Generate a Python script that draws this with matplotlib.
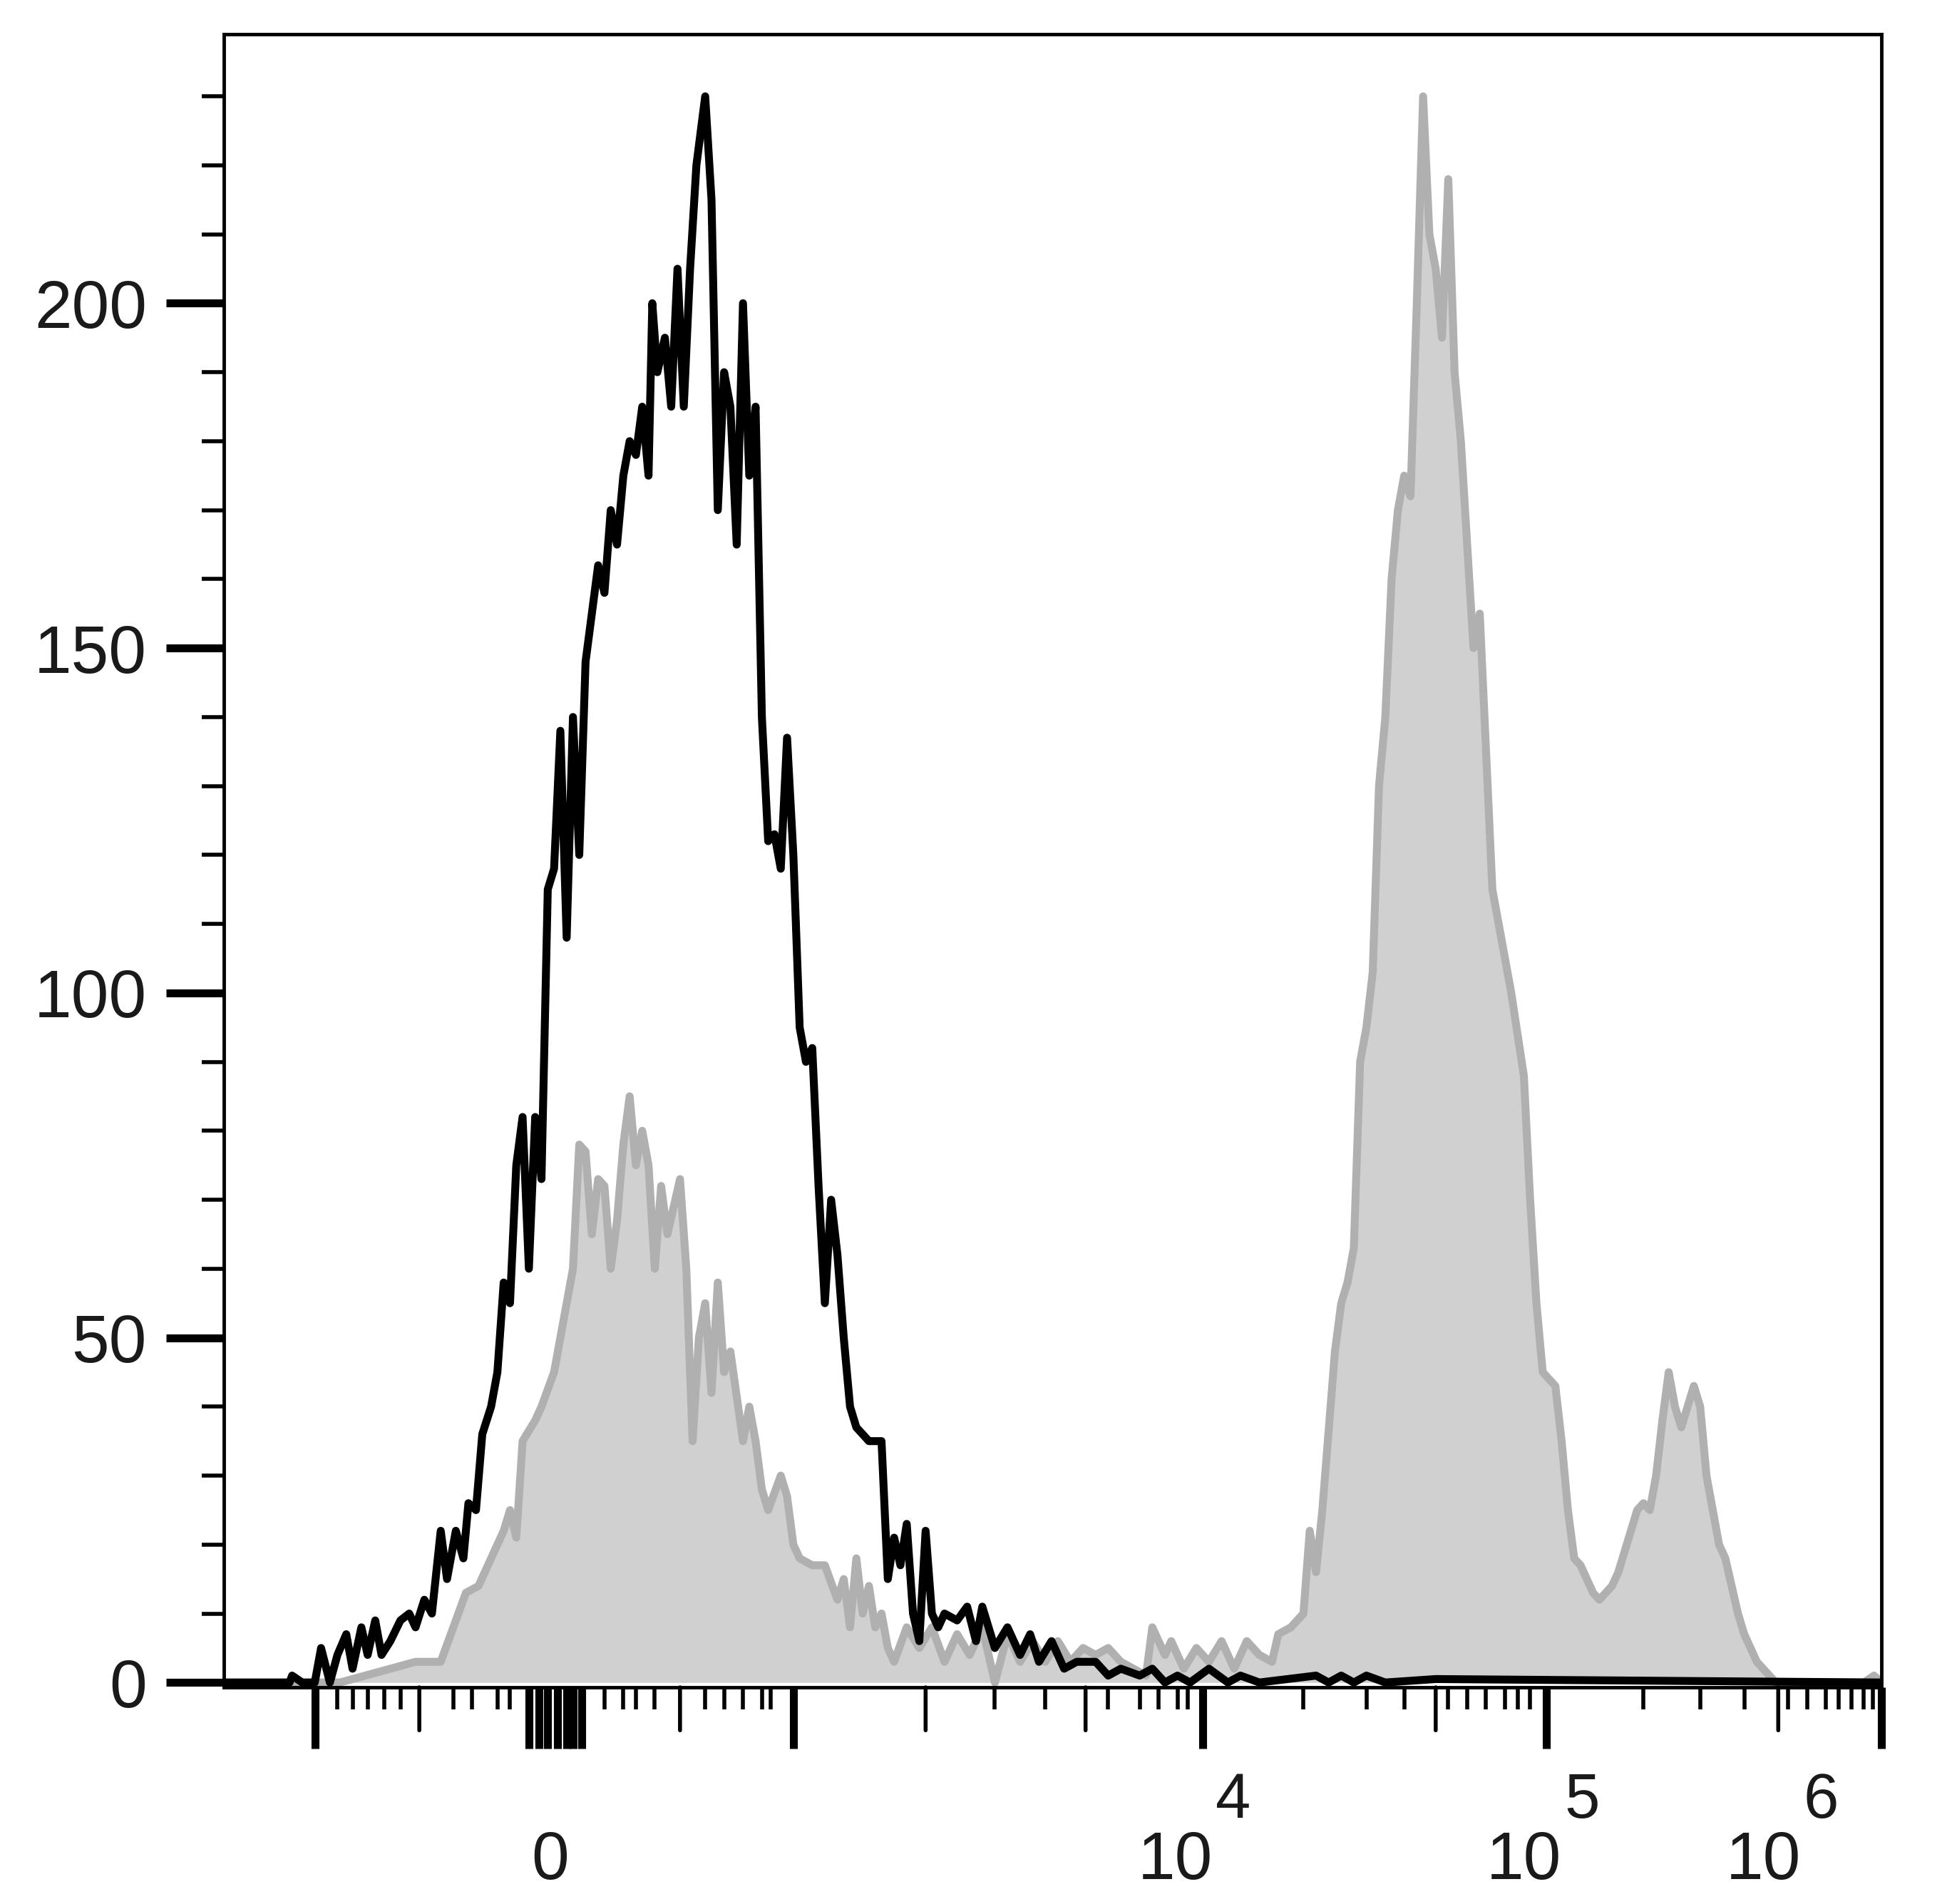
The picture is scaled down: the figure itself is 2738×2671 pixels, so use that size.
import matplotlib
matplotlib.use("Agg")
import matplotlib.pyplot as plt
from matplotlib.transforms import blended_transform_factory

plt.rcParams['font.family'] = ['Liberation Sans', 'DejaVu Sans']

# x positions are channel positions on the display (biexponential) scale
black_x = [178,230,232,240,250,255,262,268,275,280,287,292,298,303,310,318,325,330,337,343,350,355,362,368,372,378,383,390,395,400,405,410,415,420,425,430,435,440,445,450,455,460,465,470,475,480,485,490,495,500,505,510,515,518,522,528,533,538,543,548,553,560,565,570,575,580,585,590,595,600,605,610,615,620,625,630,635,640,645,650,655,660,665,670,675,680,690,700,705,710,715,720,725,730,735,740,745,750,760,768,775,780,790,800,810,818,825,835,845,855,870,880,890,905,915,925,935,945,960,975,985,1000,1045,1055,1065,1075,1085,1100,1140,1494]
black_y = [0,0,1,0,0,5,0,4,7,2,8,4,9,4,6,9,10,8,12,10,22,15,22,18,26,25,36,40,45,58,55,75,82,60,82,73,115,118,138,108,140,120,148,155,162,158,170,165,175,180,178,185,175,200,190,195,185,205,185,205,220,230,215,170,190,185,165,200,175,185,140,122,123,118,137,120,95,90,92,72,55,70,62,50,40,37,35,35,15,21,17,23,10,6,22,10,8,10,9,11,6,11,5,8,4,7,3,6,2,3,3,1,2,1,2,0,1,0,2,0,1,0,1,0,1,0,1,0,0.5,0]

gray_x = [178,250,270,290,310,330,350,360,370,380,390,400,405,410,415,425,430,440,450,455,460,465,470,475,480,485,490,495,500,505,510,515,520,525,530,540,545,550,555,560,565,570,575,580,590,595,600,605,610,620,625,630,635,645,655,665,670,675,680,685,690,695,700,705,710,720,730,740,750,760,770,780,790,800,810,820,830,840,850,860,870,880,890,900,910,915,925,930,940,950,960,970,980,990,1000,1010,1015,1025,1035,1040,1045,1050,1060,1065,1070,1075,1080,1085,1090,1095,1100,1105,1110,1115,1120,1125,1130,1135,1140,1145,1150,1155,1160,1165,1170,1175,1180,1185,1190,1195,1200,1210,1215,1220,1225,1235,1240,1245,1250,1255,1260,1265,1270,1275,1280,1285,1290,1295,1300,1305,1310,1315,1320,1325,1330,1335,1340,1345,1350,1355,1360,1365,1370,1375,1380,1385,1390,1395,1405,1410,1480,1488,1494]
gray_y = [0,0,0,1,2,3,3,8,13,14,18,22,25,21,35,38,40,45,55,60,78,77,65,73,72,60,67,78,85,75,80,75,60,72,65,73,60,35,50,55,42,58,45,48,35,40,35,28,25,30,27,20,18,17,17,12,15,8,18,10,14,8,10,5,3,8,5,8,3,7,4,8,0,7,3,6,3,6,3,5,4,5,3,2,1,8,4,6,2,5,3,6,2,6,4,3,7,8,10,22,16,25,48,55,58,63,90,95,103,130,140,160,170,175,172,200,230,210,205,195,218,190,180,165,150,155,135,115,110,105,100,88,70,55,45,43,35,25,18,17,15,13,12,13,14,16,19,22,25,26,25,30,38,45,40,37,40,43,40,30,25,20,18,14,10,7,5,3,1,0,0,1,0]

y_major = [0, 50, 100, 150, 200]
y_minor = [v for v in range(0, 240, 10) if v % 50 != 0]
x_major = [250,420,428,435,443,450,455,462,630,955,1228,1494]
x_medium = [333,540,735,862,1140,1412]
x_minor = [268,280,292,305,318,360,375,395,405,480,495,505,520,560,575,590,605,612,790,830,880,905,920,935,943,1035,1085,1115,1150,1165,1180,1195,1205,1215,1305,1350,1385,1420,1435,1450,1460,1470,1480,1487]
x_label_pos = [437, 958, 1235, 1425]
x_label_base = ['0', '10', '10', '10']
x_label_sup = ['', '4', '5', '6']

fig = plt.figure(figsize=(27.38, 26.71), dpi=100)
ax = fig.add_axes([0.1148, 0.1138, 0.8491, 0.8682])
ax.fill_between(gray_x, gray_y, 0, color='#d0d0d0', lw=0)
ax.plot(gray_x, gray_y, color='#b0b0b0', lw=8)
ax.plot(black_x, black_y, color='black', lw=8)
ax.set_xlim(178, 1494)
ax.set_ylim(-0.7, 239)
for s in ax.spines.values():
    s.set_linewidth(3.5)

ax.set_yticks(y_major)
ax.set_yticklabels([str(v) for v in y_major], fontsize=68, color='#1a1a1a')
ax.set_yticks(y_minor, minor=True)
ax.tick_params(axis='y', which='major', length=58, width=8, pad=20)
ax.tick_params(axis='y', which='minor', length=22, width=4)

ax.set_xticks(x_major)
ax.set_xticklabels([])
ax.tick_params(axis='x', which='major', length=62, width=8)
ax.set_xticks(x_minor, minor=True)
ax.tick_params(axis='x', which='minor', length=22, width=4)
tr = blended_transform_factory(ax.transData, ax.transAxes)
for p in x_medium:
    ax.annotate('', xy=(p, -0.026), xytext=(p, 0), xycoords=tr, textcoords=tr,
                arrowprops=dict(arrowstyle='-', lw=4, color='black', shrinkA=0, shrinkB=0), annotation_clip=False)
for p, b, s in zip(x_label_pos, x_label_base, x_label_sup):
    if s:
        ax.text(p + 5, -0.116, b, transform=tr, ha='right', va='baseline', fontsize=68, color='#1a1a1a')
        ax.text(p + 7, -0.079, s, transform=tr, ha='left', va='baseline', fontsize=64, color='#1a1a1a')
    else:
        ax.text(p, -0.116, b, transform=tr, ha='center', va='baseline', fontsize=68, color='#1a1a1a')

fig.savefig('out.png', dpi=100)
